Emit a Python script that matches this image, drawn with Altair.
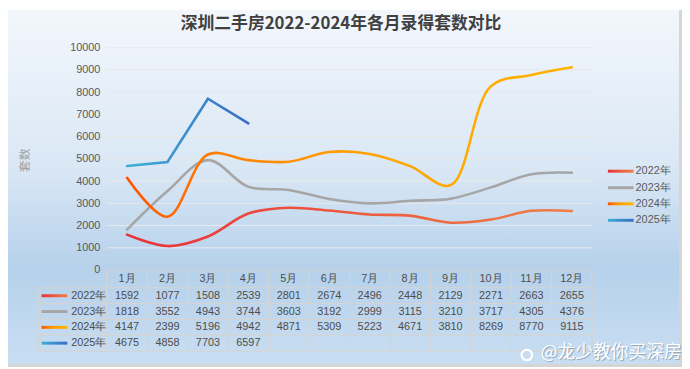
import altair as alt
import pandas as pd

# ---------------- data ----------------
months = ["1月", "2月", "3月", "4月", "5月", "6月", "7月", "8月", "9月", "10月", "11月", "12月"]
years = ["2022年", "2023年", "2024年", "2025年"]
v2022 = [1592, 1077, 1508, 2539, 2801, 2674, 2496, 2448, 2129, 2271, 2663, 2655]
v2023 = [1818, 3552, 4943, 3744, 3603, 3192, 2999, 3115, 3210, 3717, 4305, 4376]
v2024 = [4147, 2399, 5196, 4942, 4871, 5309, 5223, 4671, 3810, 8269, 8770, 9115]
v2025 = [4675, 4858, 7703, 6597]
y_ticks = [0, 1000, 2000, 3000, 4000, 5000, 6000, 7000, 8000, 9000, 10000]
title_text = "深圳二手房2022-2024年各月录得套数对比"
y_title = "套数"
watermark = "@龙少教你买深房"

# ---------------- layout ----------------
W, H = 491, 225
PAD = {"left": 100, "top": 38, "right": 91, "bottom": 98}
TXT = "#4D4D4D"
LINE_C = "#D6D3CE"
FONT = "Liberation Sans"
CJK = "Noto Sans CJK SC"


def grad(stops, vertical=False):
    return alt.Gradient(
        gradient="linear",
        stops=[alt.GradientStop(offset=o, color=c) for o, c in stops],
        x1=0, x2=0 if vertical else 1, y1=0, y2=1 if vertical else 0,
    )


styles = {
    "2022年": grad([(0, "#E8303C"), (0.5, "#EC5A3E"), (1, "#EE7E46")]),
    "2023年": "#A6A6A6",
    "2024年": grad([(0, "#FF5200"), (0.2, "#FF7E00"), (0.5, "#FFA000"), (1, "#FFB400")]),
    "2025年": grad([(0, "#3FB0D2"), (1, "#3A6CC6")]),
}
series = {"2022年": v2022, "2023年": v2023, "2024年": v2024, "2025年": v2025}


def sdf(vals):
    return pd.DataFrame({"m": list(range(1, len(vals) + 1)), "v": vals})


x_scale = alt.Scale(domain=[0.5, 12.5], nice=False, zero=False)
y_scale = alt.Scale(domain=[0, 10000], nice=False)
X = alt.X("m:Q", scale=x_scale, axis=None)
Y = alt.Y(
    "v:Q", scale=y_scale,
    axis=alt.Axis(values=y_ticks, format="d", grid=False, domain=False, ticks=False, labelPadding=7,
                  labelFontSize=11, labelColor="#595959", labelFont=FONT, title=None, zindex=1),
)

one = pd.DataFrame({"a": [0]})
layers = []

# background gradient + border
layers.append(alt.Chart(one).mark_rect(
    fill=grad([(0, "#F3F7FC"), (0.45, "#D9E7F5"), (0.72, "#B6D1EB"), (1, "#C9DEF2")], vertical=True)
).encode(x=alt.value(-PAD["left"]), x2=alt.value(W + PAD["right"]),
         y=alt.value(-PAD["top"]), y2=alt.value(H + PAD["bottom"])))
layers.append(alt.Chart(one).mark_rule(color="#D5D5D5", strokeWidth=3).encode(
    x=alt.value(W + PAD["right"] - 1.5), y=alt.value(-PAD["top"]), y2=alt.value(H + PAD["bottom"])))
layers.append(alt.Chart(one).mark_rule(color="#D5D5D5", strokeWidth=3).encode(
    x=alt.value(-PAD["left"]), x2=alt.value(W + PAD["right"]), y=alt.value(H + PAD["bottom"] - 1.5)))

# gridlines
layers.append(alt.Chart(pd.DataFrame({"v": y_ticks[1:]})).mark_rule(color="#E9E9E9", strokeWidth=1).encode(
    y=Y, x=alt.value(0), x2=alt.value(W)))

# table lines
layers.append(alt.Chart(pd.DataFrame({"m": [i + 0.5 for i in range(13)]})).mark_rule(
    color=LINE_C, strokeWidth=1).encode(x=X, y=alt.value(H), y2=alt.value(307)))
layers.append(alt.Chart(one).mark_rule(color=LINE_C, strokeWidth=1).encode(
    x=alt.value(0), x2=alt.value(W), y=alt.value(H)))
for yy in [243, 259, 275, 291, 307]:
    layers.append(alt.Chart(one).mark_rule(color=LINE_C, strokeWidth=1).encode(
        x=alt.value(-69), x2=alt.value(W), y=alt.value(yy)))
layers.append(alt.Chart(one).mark_rule(color=LINE_C, strokeWidth=1).encode(
    x=alt.value(-69), y=alt.value(243), y2=alt.value(307)))

# data lines
for yr in ["2023年", "2022年", "2024年"]:
    layers.append(alt.Chart(sdf(series[yr])).mark_line(
        interpolate="catmull-rom", stroke=styles[yr], strokeWidth=2.6, strokeCap="round"
    ).encode(x=X, y=Y))
layers.append(alt.Chart(sdf(v2025)).mark_line(
    interpolate="linear", stroke=styles["2025年"], strokeWidth=2.6, strokeCap="round"
).encode(x=X, y=Y))

# table header
layers.append(alt.Chart(pd.DataFrame({"m": list(range(1, 13)), "lab": months})).mark_text(
    fontSize=11, color=TXT, font=FONT, baseline="middle").encode(x=X, y=alt.value(234), text="lab:N"))

row_y = [251, 267, 283, 299]
for yr, ry in zip(years, row_y):
    layers.append(alt.Chart(sdf(series[yr])).mark_text(
        fontSize=11, color=TXT, font=FONT, baseline="middle"
    ).encode(x=X, y=alt.value(ry), text=alt.Text("v:Q", format="d")))
    # table legend key
    layers.append(alt.Chart(one).mark_rect(fill=styles[yr]).encode(
        x=alt.value(-66), x2=alt.value(-40), y=alt.value(ry - 1.5), y2=alt.value(ry + 1.5)))
    layers.append(alt.Chart(pd.DataFrame({"t": [yr]})).mark_text(
        fontSize=11, color=TXT, font=FONT, align="left", baseline="middle"
    ).encode(x=alt.value(-36), y=alt.value(ry), text="t:N"))

# right legend
leg_y = [125, 141.7, 158, 174.7]
for yr, ly in zip(years, leg_y):
    layers.append(alt.Chart(one).mark_rect(fill=styles[yr]).encode(
        x=alt.value(507), x2=alt.value(533), y=alt.value(ly - 1.5), y2=alt.value(ly + 1.5)))
    layers.append(alt.Chart(pd.DataFrame({"t": [yr]})).mark_text(
        fontSize=11, color="#595959", font=FONT, align="left", baseline="middle"
    ).encode(x=alt.value(535), y=alt.value(ly), text="t:N"))

# title and y title
layers.append(alt.Chart(pd.DataFrame({"t": [title_text]})).mark_text(
    fontSize=17, fontWeight="bold", color="#404040", font=CJK, baseline="middle"
).encode(x=alt.value(237), y=alt.value(-24), text="t:N"))
layers.append(alt.Chart(pd.DataFrame({"t": [y_title]})).mark_text(
    fontSize=12, color="#A0A0A0", font=CJK, angle=270, baseline="middle"
).encode(x=alt.value(-83), y=alt.value(114), text="t:N"))

# watermark
layers.append(alt.Chart(pd.DataFrame({"t": [watermark]})).mark_text(
    fontSize=18, color="#7A8A9A", font=CJK, align="left", baseline="middle", opacity=0.6
).encode(x=alt.value(440), y=alt.value(310.5), text="t:N"))
layers.append(alt.Chart(pd.DataFrame({"t": [watermark]})).mark_text(
    fontSize=18, color="#FFFFFF", font=CJK, align="left", baseline="middle"
).encode(x=alt.value(439), y=alt.value(309.5), text="t:N"))
layers.append(alt.Chart(one).mark_point(shape="circle", size=110, stroke="#FFFFFF", strokeWidth=2.2,
                                        filled=False, opacity=1).encode(
    x=alt.value(425), y=alt.value(311)))

chart = alt.layer(*layers).properties(
    width=W, height=H, padding=PAD,
    autosize=alt.AutoSizeParams(type="none"),
).configure_view(stroke=None)

chart.save("out.html", embed_options={"renderer": "svg", "actions": False})
